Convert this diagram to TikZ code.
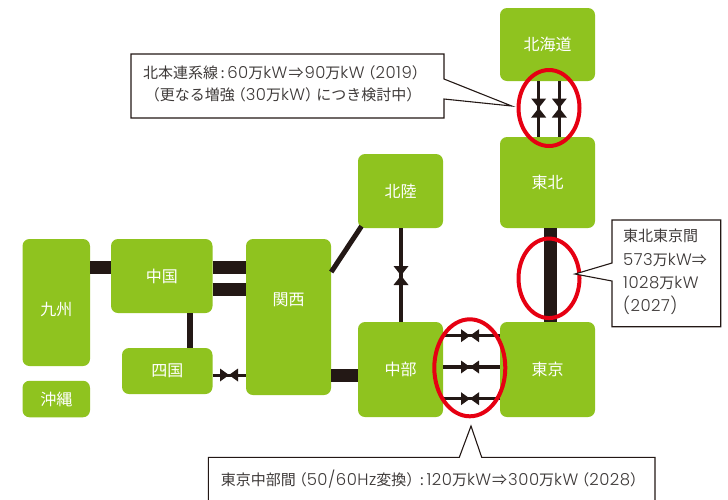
\documentclass[tikz,border=0pt]{standalone}
\usepackage{fontspec}
\setmainfont{Noto Sans CJK JP}
\newfontfamily\latn[Scale=1.1,LetterSpace=3]{Poppins Light}
\newcommand{\lpar}{\hspace{-4pt}\symbol{"FF08}}
\newcommand{\rpar}{\symbol{"FF09}\hspace{-4pt}}
\newcommand{\yields}{\kern1pt ⇒\kern1pt}
\usetikzlibrary{shapes.geometric}

\definecolor{areagreen}{HTML}{8FC31F}
\definecolor{tieblack}{HTML}{231815}
\definecolor{ringred}{HTML}{E60012}
\definecolor{notegray}{HTML}{3E3A39}

\tikzset{
    area/.style={fill=areagreen, draw=none, rounded corners=7pt, inner sep=0pt, text=white, font=\fontsize{16}{18}\selectfont},
    tie/.style={draw=tieblack, line cap=butt},
    ring/.style={draw=ringred, line width=4pt, ellipse, fill=none, inner sep=0pt},
    note/.style={draw=tieblack, fill=white, line width=1.1pt, line join=miter},
    notetext/.style={text=notegray, align=center, inner sep=0pt, font=\fontsize{15}{21.7}\selectfont},
    valveh/.style={minimum width=18pt, minimum height=13pt, inner sep=0pt, path picture={
        \fill[tieblack] (path picture bounding box.north west) -- (path picture bounding box.south east)
            -- (path picture bounding box.north east) -- (path picture bounding box.south west) -- cycle;}},
    valvev/.style={minimum width=15pt, minimum height=19pt, inner sep=0pt, path picture={
        \fill[tieblack] (path picture bounding box.north west) -- (path picture bounding box.south east)
            -- (path picture bounding box.south west) -- (path picture bounding box.north east) -- cycle;}},
}

\begin{document}
\begin{tikzpicture}[x=1pt,y=-1pt]
\useasboundingbox (0,0) rectangle (728,499);

% Areas
\node [area, minimum width=95pt, minimum height=73pt] (hokkaido) at (547.5,44.5) {北海道};
\node [area, minimum width=95pt, minimum height=91pt] (tohoku) at (547.5,182.5) {東北};
\node [area, minimum width=85pt, minimum height=74pt] (hokuriku) at (400.5,191) {北陸};
\node [area, minimum width=67.5pt, minimum height=127pt, text height=28pt] (kyushu) at (56.25,302.5) {九州};
\node [area, minimum width=67.5pt, minimum height=36.5pt] (okinawa) at (56.25,399) {沖縄};
\node [area, minimum width=101.5pt, minimum height=74pt] (chugoku) at (161.75,276) {中国};
\node [area, minimum width=90.5pt, minimum height=46pt] (shikoku) at (167.25,371) {四国};
\node [area, minimum width=85pt, minimum height=156pt, text depth=35pt] (kansai) at (288.5,317) {関西};
\node [area, minimum width=85pt, minimum height=95pt] (chubu) at (400.5,369.5) {中部};
\node [area, minimum width=95pt, minimum height=95pt] (tokyo) at (547.5,369.5) {東京};

% Valves
\node [valvev] (hoku1) at (538.7,108) {};
\node [valvev] (hoku2) at (559.3,108) {};
\node [valvev] (rikuv) at (401,275.5) {};
\node [valveh] (shiv) at (229,375) {};
\node [valveh] (fc1) at (470,335.7) {};
\node [valveh] (fc2) at (470,367) {};
\node [valveh] (fc3) at (470,398.7) {};

% Ties
\draw [tie, line width=13pt] (kyushu.east |- 0,267) -- (chugoku.west |- 0,267);
\draw [tie, line width=13pt] (chugoku.east |- 0,267.5) -- (kansai.west |- 0,267.5);
\draw [tie, line width=13pt] (chugoku.east |- 0,289) -- (kansai.west |- 0,289);
\draw [tie, line width=6pt] (190,0 |- chugoku.south) -- (190,0 |- shikoku.north);
\draw [tie, line width=3pt] (shikoku.east |- shiv) -- (kansai.west |- shiv);
\draw [tie, line width=5pt] (kansai.east |- 0,272) -- ([shift={(3.7,-2)}]hokuriku.south west);
\draw [tie, line width=13pt] (kansai.east |- 0,375) -- (chubu.west |- 0,375);
\draw [tie, line width=3.5pt] (rikuv |- hokuriku.south) -- (rikuv |- chubu.north);
\draw [tie, line width=13pt] (tohoku.south -| 550,0) -- (tokyo.north -| 550,0);
\draw [tie, line width=3.5pt] (hoku1 |- hokkaido.south) -- (hoku1 |- tohoku.north);
\draw [tie, line width=3.5pt] (hoku2 |- hokkaido.south) -- (hoku2 |- tohoku.north);
\draw [tie, line width=3.5pt] (chubu.east |- fc1) -- (tokyo.west |- fc1);
\draw [tie, line width=3.5pt] (chubu.east |- fc2) -- (tokyo.west |- fc2);
\draw [tie, line width=3.5pt] (chubu.east |- fc3) -- (tokyo.west |- fc3);

% Rings
\node [ring, minimum width=61pt, minimum height=76pt] (ringnorth) at (549,108) {};
\node [ring, minimum width=61pt, minimum height=79.5pt] (ringeast) at (549,278.3) {};
\node [ring, minimum width=71pt, minimum height=97pt] (ringfc) at (469.8,367.8) {};

% Notes
\draw [note] (131,54) -- (444,54) -- (444,79) -- (511.7,106) -- (444,99) -- (444,118) -- (131,118) -- cycle;
\node [notetext] (northtext) at (285,84) {北本連系線\,:\,{\latn 60}万{\latn kW}\yields{\latn 90}万{\latn kW}\lpar{\latn 2019}\rpar\\\lpar 更なる増強\lpar{\latn 30}万{\latn kW}\rpar につき検討中\rpar};

\draw [note] (612,220) -- (720.7,220) -- (720.7,326.7) -- (612,326.7) -- (612,281) -- (575,274) -- (612,263) -- cycle;
\node [notetext, align=left, anchor=west, font=\fontsize{15}{23.4}\selectfont] (easttext) at (623,272) {東北東京間\\{\latn 573}万{\latn kW}⇒\\{\latn 1028}万{\latn kW}\\{\latn (2027)}};

\draw [note] (208.3,505) -- (208.3,457.3) -- (459.3,457.3) -- (471,426) -- (481.7,457.3) -- (655,457.3) -- (655,505);
\node [notetext] (fctext) at (431,479) {東京中部間\lpar{\latn 50/60Hz}変換\rpar\,:\,{\latn 120}万{\latn kW}\yields{\latn 300}万{\latn kW}\lpar{\latn 2028}\rpar};

\end{tikzpicture}
\end{document}
